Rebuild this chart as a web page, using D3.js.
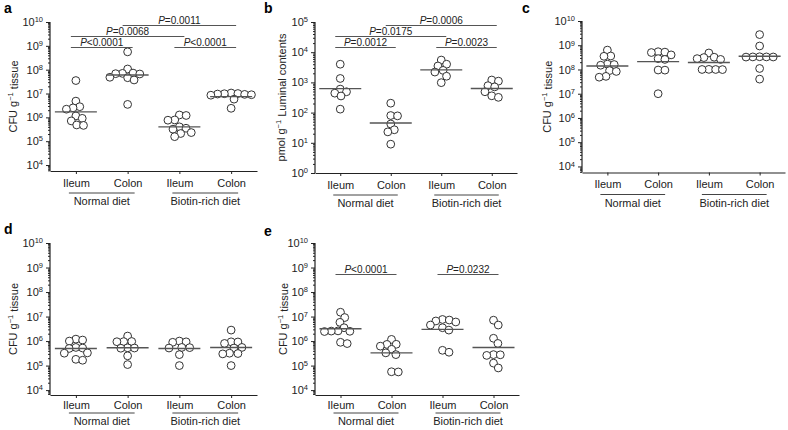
<!DOCTYPE html>
<html>
<head>
<meta charset="utf-8">
<script src="https://cdn.jsdelivr.net/npm/d3@7"></script>
<style>
  html, body { margin: 0; padding: 0; background: #fff; }
  svg { display: block; font-family: "Liberation Sans", Arial, Helvetica, sans-serif; }
</style>
</head>
<body>
<svg id="chart" width="788" height="430"></svg>
<script>
// ---------- DATA ----------
const categories = ["Ileum", "Colon", "Ileum", "Colon"];
const diets = ["Normal diet", "Biotin-rich diet"];

// Panel a: CFU g-1 tissue
const panelAValues = [
  [3.5e7, 4.8e6, 2.8e6, 2.5e6, 2.2e6, 1.15e6, 9.1e5, 7.1e5, 4.8e5, 4.6e5],
  [5.6e8, 1.07e8, 7.0e7, 6.6e7, 7.2e7, 6.8e7, 4.8e7, 4.6e7, 3.7e7, 3.5e6],
  [1.26e6, 1.2e6, 7.8e5, 7.6e5, 4.0e5, 3.5e5, 3.2e5, 2.3e5, 2.1e5, 1.55e5],
  [1.0e7, 9.5e6, 1.05e7, 9.2e6, 9.8e6, 8.9e6, 8.5e6, 5.8e6, 2.4e6]
];
const panelAMedians = [1.7e6, 6.0e7, 4.0e5, 7.4e6];
const panelASig = [
  { from: 0, to: 1, label: "<0.0001", level: 0 },
  { from: 2, to: 3, label: "<0.0001", level: 0 },
  { from: 0, to: 2, label: "=0.0068", level: 1 },
  { from: 1, to: 3, label: "=0.0011", level: 2 }
];

// Panel b: pmol g-1 luminal contents
const panelBValues = [
  [4.0e3, 1.35e3, 600, 490, 440, 355, 130],
  [205, 80, 78, 42, 27, 23, 9],
  [5.5e3, 4.0e3, 3.5e3, 2.5e3, 2.2e3, 1.6e3, 980],
  [1.2e3, 1.1e3, 780, 710, 490, 360, 320]
];
const panelBMedians = [620, 45, 2.6e3, 630];
const panelBSig = [
  { from: 0, to: 1, label: "=0.0012", level: 0 },
  { from: 2, to: 3, label: "=0.0023", level: 0 },
  { from: 0, to: 2, label: "=0.0175", level: 1 },
  { from: 1, to: 3, label: "=0.0006", level: 2 }
];

// Panel c
const panelCValues = [
  [6.3e8, 3.5e8, 3.6e8, 1.66e8, 1.6e8, 1.5e8, 9.0e7, 8.3e7, 5.2e7, 4.8e7],
  [5.2e8, 5.4e8, 5.0e8, 4.0e8, 2.8e8, 2.6e8, 9.5e7, 9.4e7, 1.0e7],
  [4.8e8, 3.2e8, 3.1e8, 2.6e8, 2.8e8, 1.0e8, 1.01e8, 0.99e8, 1.0e8],
  [2.75e9, 9.3e8, 3.3e8, 3.35e8, 3.25e8, 3.3e8, 3.28e8, 1.1e8, 4.0e7]
];
const panelCMedians = [1.4e8, 2.1e8, 1.95e8, 3.5e8];

// Panel d
const panelDValues = [
  [1.1e6, 1.2e6, 1.0e6, 5.5e5, 5.0e5, 5.2e5, 3.3e5, 3.2e5, 1.8e5, 1.65e5],
  [1.6e6, 9.5e5, 9.4e5, 9.6e5, 5.2e5, 5.3e5, 5.1e5, 2.5e5, 1.1e5],
  [9.3e5, 1.0e6, 8.9e5, 5.5e5, 5.4e5, 5.2e5, 2.8e5, 1.0e5],
  [2.8e6, 9.3e5, 9.2e5, 8.0e5, 5.5e5, 5.2e5, 3.2e5, 3.1e5, 3.0e5, 1.0e5]
];
const panelDMedians = [5.0e5, 5.3e5, 5.0e5, 5.5e5];

// Panel e
const panelEValues = [
  [1.5e7, 9.1e6, 5.8e6, 3.5e6, 2.6e6, 2.55e6, 2.5e6, 2.45e6, 8.9e5, 7.9e5],
  [1.17e6, 7.4e5, 7.3e5, 6.2e5, 4.6e5, 3.3e5, 2.8e5, 5.6e4, 5.5e4],
  [7.6e6, 7.2e6, 6.6e6, 6.0e6, 4.5e6, 3.5e6, 2.8e6, 4.2e5, 3.5e5],
  [7.1e6, 4.5e6, 1.3e6, 8.0e5, 2.8e5, 2.75e5, 2.6e5, 1.26e5, 8.0e4]
];
const panelEMedians = [3.2e6, 3.3e5, 3.0e6, 5.5e5];
const panelESig = [
  { from: 0, to: 1, label: "<0.0001", level: 0 },
  { from: 2, to: 3, label: "=0.0232", level: 0 }
];

const cfuLabel = ["CFU g", "\u22121", " tissue"];
const pmolLabel = ["pmol g", "\u22121", " Luminal contents"];

// ---------- LAYOUT ----------
const topRowGaps = { pad: 5, line: 22, group: 34 };
const botRowGaps = { pad: 3, line: 18, group: 30 };
const panels = [
  { letter: "a", values: panelAValues, medians: panelAMedians, sig: panelASig, ylabel: cfuLabel, gaps: topRowGaps,
    x0: 50, x1: 257, top: 22, bottom: 171, dmin: 3.75, dmax: 10, letterX: 4, letterY: 13, ylabX: 13, sigBase: 25.5 },
  { letter: "b", values: panelBValues, medians: panelBMedians, sig: panelBSig, ylabel: pmolLabel, gaps: topRowGaps,
    x0: 315, x1: 517, top: 22, bottom: 173, dmin: 0, dmax: 5, letterX: 264, letterY: 13, ylabX: 281, sigBase: 25.5 },
  { letter: "c", values: panelCValues, medians: panelCMedians, sig: [], ylabel: cfuLabel, gaps: topRowGaps,
    x0: 582, x1: 785, top: 21, bottom: 172.5, dmin: 3.75, dmax: 10, letterX: 522, letterY: 13, ylabX: 547 },
  { letter: "d", values: panelDValues, medians: panelDMedians, sig: [], ylabel: cfuLabel, gaps: botRowGaps,
    x0: 50, x1: 257, top: 243, bottom: 395, dmin: 3.8, dmax: 10, letterX: 4, letterY: 234, ylabX: 13 },
  { letter: "e", values: panelEValues, medians: panelEMedians, sig: panelESig, ylabel: cfuLabel, gaps: botRowGaps,
    x0: 315, x1: 519, top: 243, bottom: 395, dmin: 3.8, dmax: 10, letterX: 264, letterY: 236, ylabX: 283, sigBase: 31.5 }
];

const ink = "#222";
const R = 3.9;       // circle radius
const D = 6.8;       // dodge distance
const sigStep = 11;

function dodge(vals, y) {
  const pts = vals.map(v => ({ v, y: y(v), x: 0 })).sort((a, b) => a.y - b.y);
  const placed = [];
  for (const p of pts) {
    const iv = [];
    for (const q of placed) {
      const dy = Math.abs(p.y - q.y);
      if (dy < D) {
        const dx = Math.sqrt(D * D - dy * dy);
        iv.push([q.x - dx, q.x + dx]);
      }
    }
    const cands = [0, ...iv.flat()].sort((a, b) => (Math.abs(a) - Math.abs(b)) || (b - a));
    for (const c of cands) {
      if (iv.every(([lo, hi]) => c <= lo + 1e-6 || c >= hi - 1e-6)) { p.x = c; break; }
    }
    placed.push(p);
  }
  return placed;
}

const svg = d3.select("#chart");

panels.forEach(P => {
  const g = svg.append("g");
  const y = d3.scaleLog().domain([Math.pow(10, P.dmin), Math.pow(10, P.dmax)]).range([P.bottom, P.top]);
  const x = d3.scalePoint().domain([0, 1, 2, 3]).range([P.x0, P.x1]).padding(0.5);

  // panel letter
  g.append("text").attr("x", P.letterX).attr("y", P.letterY)
    .attr("font-size", 14).attr("font-weight", "bold").attr("fill", "#000").text(P.letter);

  // y axis major / minor
  const majors = d3.range(Math.ceil(P.dmin), P.dmax + 1).map(e => Math.pow(10, e));
  const minors = [];
  for (let e = Math.floor(P.dmin); e < P.dmax; e++) {
    for (let k = 2; k <= 9; k++) {
      const v = k * Math.pow(10, e);
      if (Math.log10(v) >= P.dmin) minors.push(v);
    }
  }
  const yAxisMinor = g.append("g").attr("transform", `translate(${P.x0},0)`)
    .call(d3.axisLeft(y).tickValues(minors).tickSize(2).tickFormat(""));
  yAxisMinor.select(".domain").remove();
  yAxisMinor.selectAll("line").attr("stroke", ink);

  const yAxis = g.append("g").attr("transform", `translate(${P.x0},0)`)
    .call(d3.axisLeft(y).tickValues(majors).tickSize(4).tickSizeOuter(0).tickPadding(3));
  yAxis.select(".domain").attr("stroke", ink).attr("stroke-width", 1.2)
    .attr("d", `M-0,${P.bottom}V${y(Math.pow(10, P.dmax))}`);
  yAxis.selectAll(".tick line").attr("stroke", ink);
  yAxis.selectAll(".tick text").each(function (d) {
    const t = d3.select(this);
    t.text(null).attr("font-size", 11).attr("fill", ink)
      .attr("font-family", "'Liberation Sans', Arial, sans-serif");
    t.append("tspan").text("10");
    t.append("tspan").attr("dy", "-0.5em").attr("font-size", 7.5).text(Math.round(Math.log10(d)));
  });

  // x axis
  const xAxis = g.append("g").attr("transform", `translate(0,${P.bottom})`)
    .call(d3.axisBottom(x).tickSize(3).tickSizeOuter(0).tickPadding(P.gaps.pad).tickFormat(i => categories[i]));
  xAxis.select(".domain").attr("stroke", ink).attr("stroke-width", 1.2);
  xAxis.selectAll(".tick line").attr("stroke", ink);
  xAxis.selectAll(".tick text").attr("font-size", 11).attr("fill", ink)
    .attr("font-family", "'Liberation Sans', Arial, sans-serif");

  // diet groups
  diets.forEach((name, gi) => {
    const a = x(gi * 2), b = x(gi * 2 + 1);
    g.append("line").attr("x1", a - 7).attr("x2", b + 7)
      .attr("y1", P.bottom + P.gaps.line).attr("y2", P.bottom + P.gaps.line)
      .attr("stroke", "#444").attr("stroke-width", 1);
    g.append("text").attr("x", (a + b) / 2).attr("y", P.bottom + P.gaps.group)
      .attr("text-anchor", "middle").attr("font-size", 11).attr("fill", ink).text(name);
  });

  // y label
  const cy = (P.top + P.bottom) / 2;
  const yl = g.append("text").attr("transform", `translate(${P.ylabX},${cy}) rotate(-90)`)
    .attr("text-anchor", "middle").attr("dy", "0.35em").attr("font-size", 11).attr("fill", ink);
  yl.append("tspan").text(P.ylabel[0]);
  yl.append("tspan").attr("dy", "-0.45em").attr("font-size", 7.5).text(P.ylabel[1]);
  yl.append("tspan").attr("dy", "0.45em").text(P.ylabel[2]);

  // points + median lines
  P.values.forEach((vals, ci) => {
    const cx = x(ci);
    const pts = dodge(vals, y);
    g.append("g").selectAll("circle").data(pts).join("circle")
      .attr("cx", d => cx + d.x).attr("cy", d => d.y).attr("r", R)
      .attr("fill", "#fff").attr("stroke", "#333").attr("stroke-width", 1);
    g.append("line").attr("x1", cx - 21).attr("x2", cx + 21)
      .attr("y1", y(P.medians[ci])).attr("y2", y(P.medians[ci]))
      .attr("stroke", "#555").attr("stroke-width", 1.4);
  });

  // significance bars
  P.sig.forEach(s => {
    const by = P.top + P.sigBase - s.level * sigStep;
    const xa = x(s.from) - 5, xb = x(s.to) + 5;
    g.append("line").attr("x1", xa).attr("x2", xb).attr("y1", by).attr("y2", by)
      .attr("stroke", "#555").attr("stroke-width", 1);
    const t = g.append("text").attr("x", (xa + xb) / 2).attr("y", by - 2)
      .attr("text-anchor", "middle").attr("font-size", 10).attr("fill", ink);
    t.append("tspan").attr("font-style", "italic").text("P");
    t.append("tspan").text(s.label);
  });
});
</script>
</body>
</html>
